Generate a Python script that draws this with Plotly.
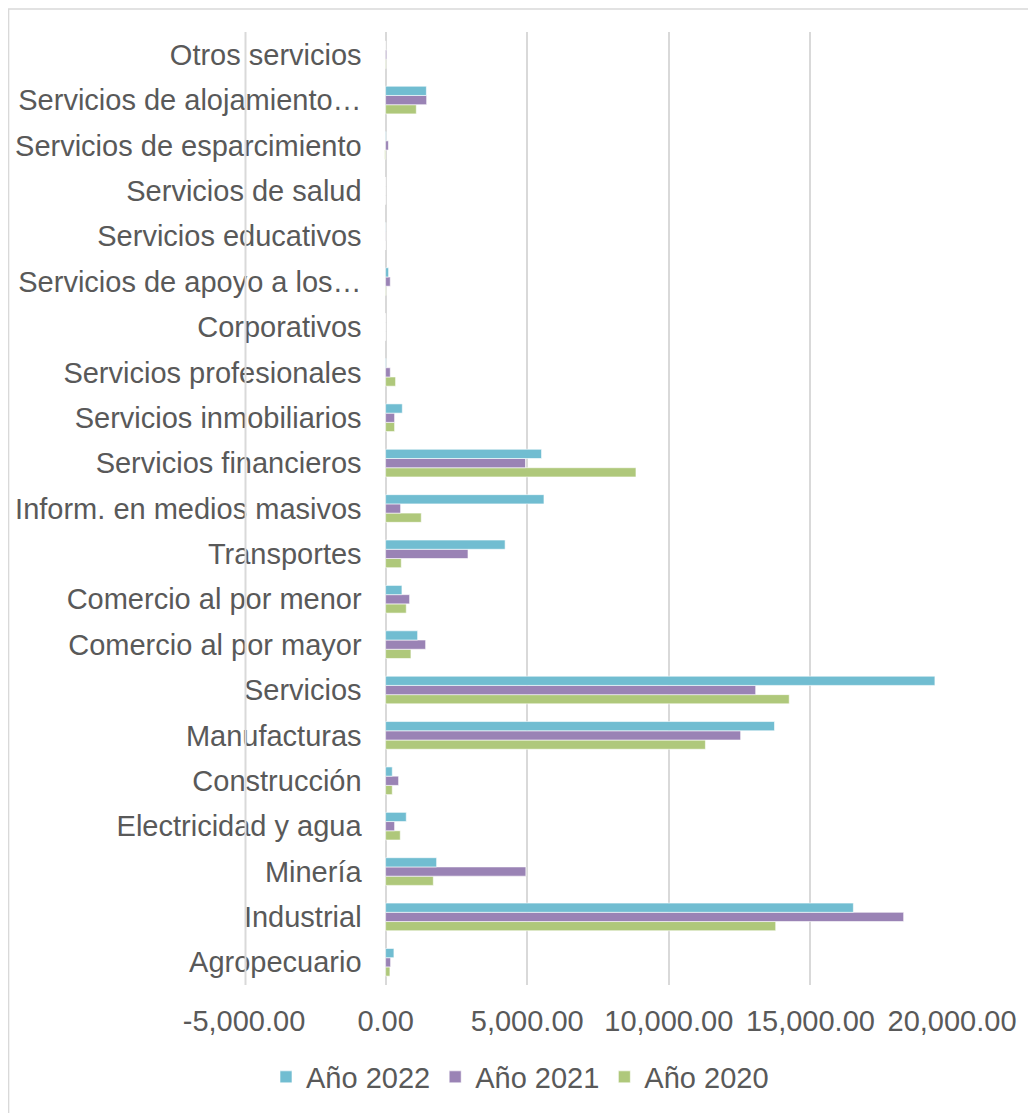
import plotly.graph_objects as go

categories = [
    "Agropecuario", "Industrial", "Minería", "Electricidad y agua", "Construcción",
    "Manufacturas", "Servicios", "Comercio al por mayor", "Comercio al por menor",
    "Transportes", "Inform. en medios masivos", "Servicios financieros",
    "Servicios inmobiliarios", "Servicios profesionales", "Corporativos",
    "Servicios de apoyo a los…", "Servicios educativos", "Servicios de salud",
    "Servicios de esparcimiento", "Servicios de alojamiento…", "Otros servicios",
]

anio_2022 = [294, 16517, 1802, 730, 236, 13733, 19397, 1131, 577, 4220, 5592, 5507,
             590, 20, 0, 106, 10, 0, 20, 1440, 0]
anio_2021 = [177, 18293, 4953, 318, 459, 12537, 13068, 1414, 848, 2910, 530, 4940,
             318, 165, 0, 165, 10, 0, 100, 1450, 40]
anio_2020 = [153, 13775, 1685, 518, 236, 11293, 14252, 895, 730, 554, 1260, 8841,
             318, 353, 0, 20, 0, 0, -30, 1084, 20]

series_names = ["Año 2020", "Año 2021", "Año 2022"]
series_colors = ["#AFC87B", "#9A83B5", "#71BDD1"]

x_ticks = [-5000, 0, 5000, 10000, 15000, 20000]
x_ticktext = [f"{v:,.2f}" for v in x_ticks]

FONT = "Liberation Sans, Arial, sans-serif"
TXT = "#595959"
GRID = "#D9D9D9"

W, H = 1028, 1105
L, R, T, B = 236, 84, 24, 128
PW = W - L - R

fig = go.Figure()
for name, vals, col in zip(series_names, [anio_2020, anio_2021, anio_2022], series_colors):
    fig.add_trace(go.Bar(
        y=categories, x=vals, name=name, orientation="h",
        marker=dict(color=col, line=dict(color="white", width=0.6)),
    ))

fig.update_layout(
    width=W, height=H,
    margin=dict(l=L, r=R, t=T, b=B, autoexpand=False),
    paper_bgcolor="white", plot_bgcolor="rgba(0,0,0,0)",
    barmode="group", bargap=0.39, bargroupgap=0,
    font=dict(family=FONT, size=29, color=TXT),
    legend=dict(
        orientation="h", traceorder="reversed",
        xref="container", yref="container",
        x=512 / W, xanchor="center",
        y=1 - 1069 / H, yanchor="middle",
        font=dict(family=FONT, size=29, color=TXT),
        itemwidth=30,
    ),
    xaxis=dict(
        range=[-5000, 20000], tickvals=x_ticks, ticktext=x_ticktext,
        showgrid=True, gridcolor=GRID, gridwidth=2,
        zeroline=True, zerolinecolor=GRID, zerolinewidth=2,
        showline=False, ticks="", ticklabelstandoff=16, automargin=False,
        tickfont=dict(family=FONT, size=29, color=TXT),
    ),
    yaxis=dict(
        type="category", range=[-0.5, len(categories) - 0.5],
        anchor="free", position=0.2, automargin=False,
        showgrid=False, zeroline=False, showline=False,
        ticks="", ticklabelstandoff=24,
        tickfont=dict(family=FONT, size=29, color=TXT),
    ),
    shapes=[
        dict(
            type="rect", xref="paper", yref="paper",
            x0=-L / PW + 0.0008, x1=1.3, y0=-0.3, y1=1 + (T - 1) / (H - T - B),
            line=dict(color=GRID, width=1.5), fillcolor="rgba(0,0,0,0)", layer="below",
        ),
        dict(
            type="line", xref="paper", yref="paper",
            x0=1.5 / PW, x1=1.5 / PW, y0=0, y1=1,
            line=dict(color=GRID, width=2), layer="above",
        ),
    ],
)

fig.write_html("out.html")
